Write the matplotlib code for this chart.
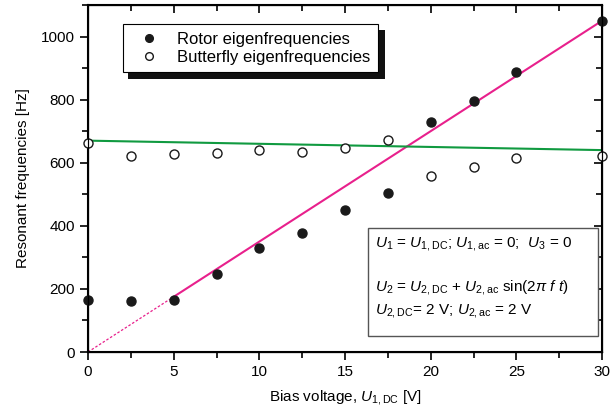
import matplotlib
matplotlib.use("Agg")
import matplotlib.pyplot as plt
from matplotlib.patches import Rectangle
import numpy as np

plt.rcParams['font.family'] = ['Liberation Sans', 'DejaVu Sans']
plt.rcParams['mathtext.fontset'] = 'custom'
plt.rcParams['mathtext.rm'] = 'Liberation Sans'
plt.rcParams['mathtext.it'] = 'Liberation Sans:italic'

# measured data
voltage = [0, 2.5, 5, 7.5, 10, 12.5, 15, 17.5, 20, 22.5, 25, 30]
rotor = [165, 162, 165, 248, 330, 378, 451, 505, 730, 797, 889, 1048]
butterfly = [663, 622, 629, 632, 641, 635, 648, 673, 559, 587, 616, 622]

# fitted lines (slope, intercept)
rotor_fit = (35.0, 0.0)
butterfly_fit = (-1.0, 670.0)

fig = plt.figure(figsize=(6.1, 4.17), dpi=100)
ax = fig.add_axes([88 / 610, 65 / 417, 514 / 610, 347 / 417])

xd = np.array([0, 5])
xs = np.array([5, 30])
xa = np.array([0, 30])
ax.plot(xd, rotor_fit[0] * xd + rotor_fit[1], color='#e8208c', lw=0.9, ls=(0, (2, 1.5)))
ax.plot(xs, rotor_fit[0] * xs + rotor_fit[1], color='#e8208c', lw=1.5)
ax.plot(xa, butterfly_fit[0] * xa + butterfly_fit[1], color='#109a40', lw=1.5)

h1, = ax.plot(voltage, rotor, 'o', color='#1a1a1a', ms=6.5,
              clip_on=False, zorder=5)
h2, = ax.plot(voltage, butterfly, 'o', mfc='white', mec='#1a1a1a', mew=1.0, ms=6.5,
              clip_on=False, zorder=5)

ax.set_xlim(0, 30)
ax.set_ylim(0, 1100)
ax.set_xticks(range(0, 31, 5))
ax.set_xticks(np.arange(2.5, 30, 5), minor=True)
ax.set_yticks(range(0, 1001, 200))
ax.set_yticks(range(100, 1101, 200), minor=True)
ax.tick_params(which='both', labelsize=11, width=1.2)
ax.tick_params(which='major', length=6)
ax.tick_params(which='minor', length=4)
for s in ax.spines.values():
    s.set_linewidth(1.5)

# inward ticks on top and right
ax2 = ax.twinx()
ax2.set_ylim(ax.get_ylim())
ax2.set_yticks(ax.get_yticks())
ax2.set_yticks(range(100, 1101, 200), minor=True)
ax2.tick_params(which='both', direction='in', labelright=False, width=1.2)
ax2.tick_params(which='major', length=6)
ax2.tick_params(which='minor', length=4)
ax3 = ax.twiny()
ax3.set_xlim(ax.get_xlim())
ax3.set_xticks(ax.get_xticks())
ax3.set_xticks(np.arange(2.5, 30, 5), minor=True)
ax3.tick_params(which='both', direction='in', labeltop=False, width=1.2)
ax3.tick_params(which='major', length=6)
ax3.tick_params(which='minor', length=4)

ax.set_xlabel(r'Bias voltage, $U_{\mathrm{1,DC}}$ [V]', fontsize=11, labelpad=6)
ax.set_ylabel('Resonant frequencies [Hz]', fontsize=11, labelpad=8)

# text box with the driving conditions
ax3.add_patch(Rectangle((0.545, 0.046), 0.447, 0.311, transform=ax3.transAxes,
                        fc='white', ec='#555555', lw=1.0, zorder=8))
txt = ('$U_1$ = $U_{\\mathrm{1,DC}}$; $U_{\\mathrm{1,ac}}$ = 0;  $U_3$ = 0\n\n'
       '$U_2$ = $U_{\\mathrm{2,DC}}$ + $U_{\\mathrm{2,ac}}$ sin(2$\\pi$ $f$ $t$)\n'
       '$U_{\\mathrm{2,DC}}$= 2 V; $U_{\\mathrm{2,ac}}$ = 2 V')
ax3.text(0.558, 0.337, txt, transform=ax3.transAxes, fontsize=11, va='top', ha='left',
         linespacing=1.45, zorder=10)

# legend at figure level, drawn above a black drop shadow
shadow = Rectangle((0.2098, 0.8106), 0.4213, 0.1175, transform=fig.transFigure,
                   fc='#111111', ec='none', zorder=5)
fig.add_artist(shadow)
leg = fig.legend([h1, h2], ['Rotor eigenfrequencies', 'Butterfly eigenfrequencies'],
                 loc='upper left', bbox_to_anchor=(0.2016, 0.9424), fontsize=12,
                 borderaxespad=0, frameon=True, fancybox=False, borderpad=0.45,
                 handletextpad=0.6, labelspacing=0.2, handlelength=2.2,
                 markerscale=0.85)
leg.get_frame().set_edgecolor('black')
leg.get_frame().set_linewidth(0.8)
leg.get_frame().set_alpha(1)
leg.set_zorder(6)

fig.savefig('out.png', dpi=100)
